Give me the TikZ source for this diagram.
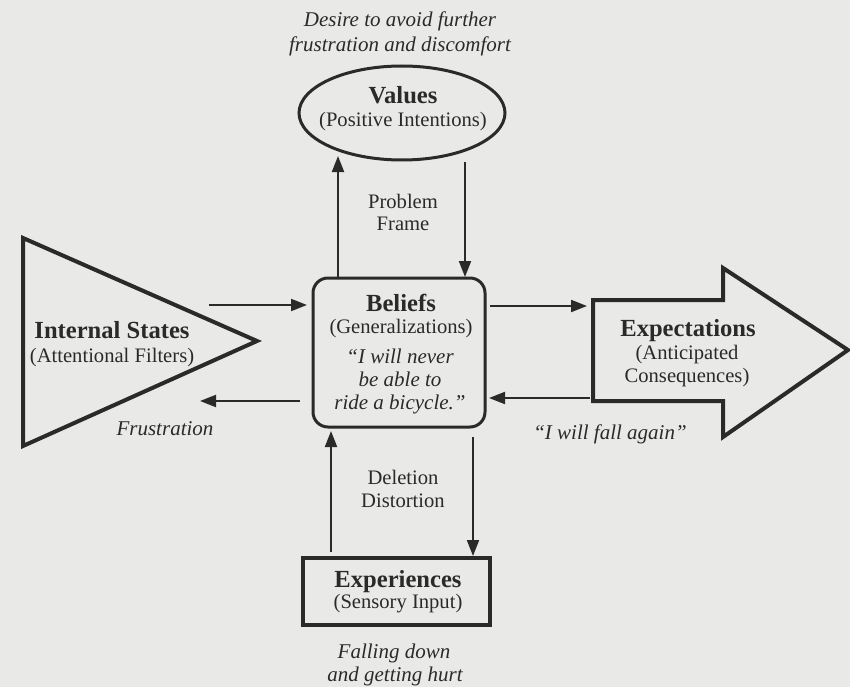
\documentclass[tikz,border=0pt]{standalone}
\usepackage{fontspec}
\setmainfont{Liberation Serif}
\usetikzlibrary{arrows.meta}
\definecolor{paper}{RGB}{233,233,231}
\definecolor{ink}{RGB}{42,42,42}
\begin{document}
\begin{tikzpicture}[x=1pt,y=-1pt,
  conn/.style={draw=ink,line width=2pt,-{Triangle[length=16pt,width=12pt]}},
  lbl/.style={anchor=base,inner sep=0pt,text=ink,font=\fontsize{20.6}{24}\selectfont},
  ttl/.style={anchor=base,inner sep=0pt,text=ink,font=\fontsize{24.6}{28}\selectfont\bfseries},
  itl/.style={anchor=base,inner sep=0pt,text=ink,font=\fontsize{21}{24}\selectfont\itshape},
  shp/.style={draw=ink,line join=miter}]
\fill[paper] (0,0) rectangle (850,687);
\useasboundingbox (0,0) rectangle (850,687);

% shapes
\coordinate (valC) at (402,113);
\draw[shp,line width=3pt] (valC) ellipse [x radius=103, y radius=47];
\draw[shp,line width=3pt,rounded corners=15pt] (313,278) rectangle (485,427);
\draw[shp,line width=4.5pt] (303,558) rectangle (490,625);
\draw[shp,line width=4pt] (23,238) -- (257,341) -- (23,446) -- cycle;
\draw[shp,line width=4pt] (593,300) -- (723,300) -- (723,268) -- (848,350)
  -- (723,437) -- (723,401) -- (593,401) -- cycle;

% connector end points
\coordinate (belUp1) at (338,277);   \coordinate (valDn1) at (338,156);
\coordinate (valDn2) at (465,162);   \coordinate (belUp2) at (465,277);
\coordinate (intR1) at (209,305);    \coordinate (belL1) at (307,305);
\coordinate (belL2) at (300,401);    \coordinate (intR2) at (200,401);
\coordinate (belR1) at (490,306);    \coordinate (expL1) at (587,306);
\coordinate (expL2) at (590,398);    \coordinate (belR2) at (489,398);
\coordinate (belDn1) at (473,437);   \coordinate (expUp1) at (473,556);
\coordinate (expUp2) at (331,552);   \coordinate (belDn2) at (331,431);

\draw[conn] (belUp1) -- (valDn1);
\draw[conn] (valDn2) -- (belUp2);
\draw[conn] (intR1) -- (belL1);
\draw[conn] (belL2) -- (intR2);
\draw[conn] (belR1) -- (expL1);
\draw[conn] (expL2) -- (belR2);
\draw[conn] (belDn1) -- (expUp1);
\draw[conn] (expUp2) -- (belDn2);

% texts
\node[itl] (des1) at (400,27) {Desire to avoid further};
\node[itl] (des2) at (400,52) {frustration and discomfort};
\node[ttl] (valT) at (403,104) {Values};
\node[lbl] (valS) at (403,127) {(Positive Intentions)};
\node[lbl] (pf1) at (403,208) {Problem};
\node[lbl] (pf2) at (403,230) {Frame};
\node[ttl] (belT) at (401,311) {Beliefs};
\node[lbl] (belS) at (401,333) {(Generalizations)};
\node[itl] (bq1) at (400,363) {``I will never};
\node[itl] (bq2) at (400,386) {be able to};
\node[itl] (bq3) at (400,409) {ride a bicycle.''};
\node[ttl] (intT) at (112,338) {Internal States};
\node[lbl] (intS) at (112,362) {(Attentional Filters)};
\node[itl] (frus) at (165,435) {Frustration};
\node[ttl] (expT) at (688,336) {Expectations};
\node[lbl] (expS1) at (687,359) {(Anticipated};
\node[lbl] (expS2) at (687,382) {Consequences)};
\node[itl] (fall) at (610,439) {``I will fall again''};
\node[lbl] (dd1) at (403,484) {Deletion};
\node[lbl] (dd2) at (403,507) {Distortion};
\node[ttl] (exT) at (398,587) {Experiences};
\node[lbl] (exS) at (398,608) {(Sensory Input)};
\node[itl] (fd1) at (394,658) {Falling down};
\node[itl] (fd2) at (395,681) {and getting hurt};
\end{tikzpicture}
\end{document}
